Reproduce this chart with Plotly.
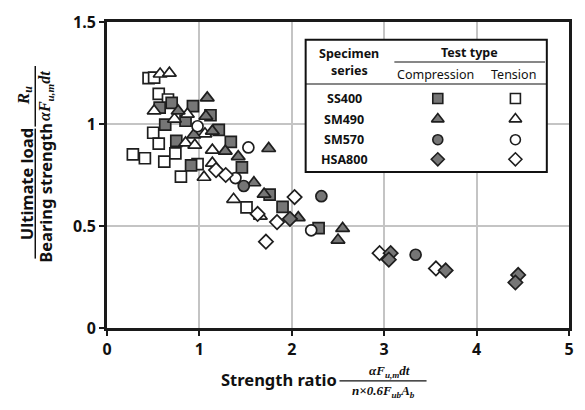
import plotly.graph_objects as go

# Strength ratio (x) and normalised ultimate load (y) for each specimen series
ss400_comp_x = [0.70, 0.93, 0.57, 1.12, 0.85, 0.63, 1.21, 0.75, 1.34, 1.46, 0.91, 1.76, 1.90, 2.29]
ss400_comp_y = [1.104, 1.088, 1.080, 1.043, 1.016, 0.997, 0.971, 0.917, 0.912, 0.787, 0.797, 0.654, 0.594, 0.490]
ss400_tens_x = [0.45, 0.51, 0.56, 0.66, 0.50, 0.56, 0.28, 0.41, 0.62, 0.74, 0.98, 0.80, 1.51]
ss400_tens_y = [1.225, 1.227, 1.148, 1.120, 0.957, 0.904, 0.851, 0.832, 0.816, 0.856, 0.803, 0.742, 0.591]

sm490_comp_x = [1.085, 0.77, 1.07, 0.94, 1.14, 1.75, 1.28, 1.42, 1.59, 1.70, 2.07, 2.55, 2.50]
sm490_comp_y = [1.128, 1.064, 1.038, 0.947, 0.965, 0.880, 0.867, 0.840, 0.712, 0.656, 0.541, 0.488, 0.431]
sm490_tens_x = [0.575, 0.675, 0.51, 0.73, 0.87, 1.06, 0.85, 0.95, 1.14, 1.14, 1.05, 1.37, 1.66]
sm490_tens_y = [1.245, 1.249, 1.064, 1.024, 1.048, 0.952, 0.907, 0.896, 0.872, 0.808, 0.739, 0.631, 0.548]

sm570_comp_x = [1.48, 2.32, 3.34]
sm570_comp_y = [0.696, 0.646, 0.359]
sm570_tens_x = [0.98, 1.53, 1.39, 2.21]
sm570_tens_y = [0.989, 0.885, 0.735, 0.479]

hsa800_comp_x = [1.98, 3.07, 3.05, 3.665, 4.45, 4.42]
hsa800_comp_y = [0.535, 0.367, 0.335, 0.282, 0.260, 0.223]
hsa800_tens_x = [1.18, 1.285, 1.63, 1.72, 1.84, 2.03, 2.95, 3.56]
hsa800_tens_y = [0.774, 0.750, 0.559, 0.423, 0.519, 0.642, 0.367, 0.292]

x_ticks = [0, 1, 2, 3, 4, 5]
y_ticks = [0, 0.5, 1, 1.5]
y_tick_text = ["0", "0.5", "1", "1.5"]

series_names = ["SS400", "SM490", "SM570", "HSA800"]
symbols = ["square", "triangle-up", "circle", "diamond"]
sizes = [11, 12, 11, 11]
legend_sizes = [10, 11, 10, 10]

FILL = "#767676"
EDGE = "#1e1e1e"
FONT = "Noto Sans"
MATH = "Liberation Serif"

groups = [
    (ss400_comp_x, ss400_comp_y, ss400_tens_x, ss400_tens_y),
    (sm490_comp_x, sm490_comp_y, sm490_tens_x, sm490_tens_y),
    (sm570_comp_x, sm570_comp_y, sm570_tens_x, sm570_tens_y),
    (hsa800_comp_x, hsa800_comp_y, hsa800_tens_x, hsa800_tens_y),
]

fig = go.Figure()

for name, sym, sz, (cx, cy, tx, ty) in zip(series_names, symbols, sizes, groups):
    fig.add_trace(go.Scatter(
        x=tx, y=ty, mode="markers", name=f"{name} tension", showlegend=False,
        marker=dict(symbol=sym, size=sz, color="white", line=dict(color=EDGE, width=1.7)),
    ))
    fig.add_trace(go.Scatter(
        x=cx, y=cy, mode="markers", name=f"{name} compression", showlegend=False,
        marker=dict(symbol=sym, size=sz, color=FILL, line=dict(color=EDGE, width=1.7)),
    ))

# ---- legend table drawn inside the plot area (data units) ----
box_x0, box_x1 = 2.15, 4.76
box_y0, box_y1 = 0.765, 1.413
col_label_x = 2.57
col_comp_x = 3.58
col_tens_x = 4.42
row_y = [1.125, 1.024, 0.923, 0.827]

shapes = [
    dict(type="rect", xref="x", yref="y", x0=box_x0, x1=box_x1, y0=box_y0, y1=box_y1,
         line=dict(color="#111", width=2), fillcolor="white", layer="between"),
    dict(type="line", xref="x", yref="y", x0=3.11, x1=box_x1 - 0.02, y0=1.304, y1=1.304,
         line=dict(color="#111", width=1.2)),
    dict(type="line", xref="x", yref="y", x0=box_x0, x1=box_x1, y0=1.196, y1=1.196,
         line=dict(color="#111", width=1.2)),
]

for sym, sz, ry in zip(symbols, legend_sizes, row_y):
    fig.add_trace(go.Scatter(
        x=[col_comp_x], y=[ry], mode="markers", showlegend=False, hoverinfo="skip",
        marker=dict(symbol=sym, size=sz, color=FILL, line=dict(color=EDGE, width=1.6)),
    ))
    fig.add_trace(go.Scatter(
        x=[col_tens_x], y=[ry], mode="markers", showlegend=False, hoverinfo="skip",
        marker=dict(symbol=sym, size=sz, color="white", line=dict(color=EDGE, width=1.6)),
    ))

annotations = []
def txt(x, y, s, size=12, bold=False, xref="x", yref="y", angle=0, family=FONT):
    annotations.append(dict(
        x=x, y=y, xref=xref, yref=yref, text=f"<b>{s}</b>" if bold else s,
        showarrow=False, textangle=angle, xanchor="center", yanchor="middle",
        font=dict(family=family, size=size, color="#111"),
    ))

txt(2.62, 1.348, "Specimen", 12.5, True)
txt(2.62, 1.262, "series", 12.5, True)
txt(3.92, 1.352, "Test type", 12.5, True)
txt(3.55, 1.244, "Compression", 12.5)
txt(4.40, 1.244, "Tension", 12.5)
for name, ry in zip(series_names, row_y):
    txt(col_label_x, ry, name, 12.5, True)

# ---- axis titles composed as text fractions (paper / pixel placement) ----
W, H = 585, 410
ML, MR, MT, MB = 107, 11, 15, 82
PW, PH = W - ML - MR, H - MT - MB

def px_x(px):
    return (px - ML) / PW

def px_y(py):
    return (H - MB - py) / PH

# y-axis title: "Ultimate load / Bearing strength" and R_u / (αF_u,m dt)
txt(px_x(25), px_y(181), "Ultimate load", 16.5, True, "paper", "paper", -90)
txt(px_x(44), px_y(190), "Bearing strength", 16.5, True, "paper", "paper", -90)
shapes.append(dict(type="line", xref="paper", yref="paper",
                   x0=px_x(34.5), x1=px_x(34.5), y0=px_y(124), y1=px_y(257),
                   line=dict(color="#111", width=1.5)))
txt(px_x(24), px_y(90), "<i>R<sub>u</sub></i>", 17, True, "paper", "paper", -90, MATH)
txt(px_x(45), px_y(91), "<i>αF<sub>u,m</sub>dt</i>", 16, True, "paper", "paper", -90, MATH)
shapes.append(dict(type="line", xref="paper", yref="paper",
                   x0=px_x(34.5), x1=px_x(34.5), y0=px_y(60), y1=px_y(122),
                   line=dict(color="#111", width=1.5)))

# x-axis title: "Strength ratio" with αF_u,m dt / (n×0.6F_ub A_b)
txt(px_x(281), px_y(381), "Strength ratio", 16.5, True, "paper", "paper")
txt(px_x(393), px_y(372), "<i>αF<sub>u,m</sub>dt</i>", 13, True, "paper", "paper", 0, MATH)
shapes.append(dict(type="line", xref="paper", yref="paper",
                   x0=px_x(342), x1=px_x(430), y0=px_y(382), y1=px_y(382),
                   line=dict(color="#111", width=1.2)))
txt(px_x(386), px_y(393), "<i>n×0.6F<sub>ub</sub>A<sub>b</sub></i>", 13, True, "paper", "paper", 0, MATH)

fig.update_layout(
    width=W, height=H,
    margin=dict(l=ML, r=MR, t=MT, b=MB),
    paper_bgcolor="white", plot_bgcolor="white",
    shapes=shapes, annotations=annotations,
    showlegend=False,
    font=dict(family=FONT, color="#111"),
)
fig.update_xaxes(
    range=[0, 5], tickvals=x_ticks, ticktext=[f"<b>{v}</b>" for v in x_ticks],
    showgrid=True, gridcolor="#c4c4c4", gridwidth=1.5,
    showline=True, linecolor="#1a1a1a", linewidth=3, mirror=True,
    ticks="outside", ticklen=5, tickwidth=2, tickcolor="#1a1a1a",
    tickfont=dict(family=FONT, size=16, color="#111"), zeroline=False,
)
fig.update_yaxes(
    range=[0, 1.5], tickvals=y_ticks, ticktext=[f"<b>{t}</b>" for t in y_tick_text],
    showgrid=True, gridcolor="#c4c4c4", gridwidth=1.5,
    showline=True, linecolor="#1a1a1a", linewidth=3, mirror=True,
    ticks="outside", ticklen=5, tickwidth=2, tickcolor="#1a1a1a",
    tickfont=dict(family=FONT, size=16, color="#111"), zeroline=False,
)

fig.write_html("out.html")
